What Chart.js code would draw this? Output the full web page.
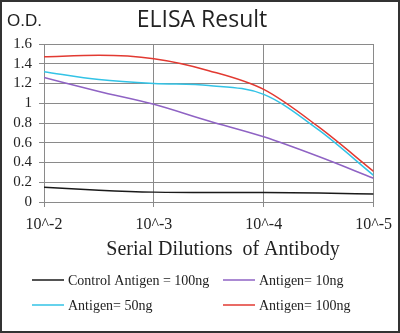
<!DOCTYPE html>
<html>
<head>
<meta charset="utf-8">
<script src="https://cdn.jsdelivr.net/npm/chart.js@4/dist/chart.umd.min.js"></script>
<style>
  body { margin: 0; background: #fff; }
</style>
</head>
<body>
<canvas id="elisaChart" width="400" height="333"></canvas>
<script>
// dilution exponent (10^-x) at half steps
const dilutions = [2, 2.5, 3, 3.5, 4, 4.5, 5];
const xTicks = [2, 3, 4, 5];

const seriesNames = ['Control Antigen = 100ng', 'Antigen= 10ng', 'Antigen= 50ng', 'Antigen= 100ng'];
const control100 = [0.15, 0.12, 0.10, 0.095, 0.095, 0.09, 0.08];
const antigen10 = [1.26, 1.12, 0.99, 0.82, 0.66, 0.46, 0.24];
const antigen50 = [1.32, 1.24, 1.20, 1.18, 1.09, 0.73, 0.27];
const antigen100 = [1.47, 1.485, 1.45, 1.33, 1.14, 0.76, 0.31];
const lineColors = ['#1a1a1a', '#8f63c4', '#33c3e6', '#e23a32'];

function pts(vals) {
  return vals.map((v, i) => ({ x: dilutions[i], y: v }));
}

const allSeries = [control100, antigen10, antigen50, antigen100];

// draws the texts, legend and frame around the picture
const decorPlugin = {
  id: 'decor',
  afterDraw(chart) {
    const ctx = chart.ctx;
    ctx.save();
    ctx.fillStyle = '#222';
    ctx.textBaseline = 'middle';

    ctx.font = '17px "Liberation Sans", Arial, sans-serif';
    ctx.textAlign = 'left';
    ctx.fillText('O.D.', 7, 21);

    ctx.font = '23px "Open Sans", sans-serif';
    ctx.textAlign = 'center';
    ctx.fillText('ELISA Result', 202, 20);

    ctx.font = '20px "Liberation Serif", serif';
    ctx.fillText('Serial Dilutions  of Antibody', 223, 250);

    // legend, two columns
    const spots = [[32, 280], [223, 280], [32, 305], [223, 305]];
    ctx.font = '14px "Liberation Serif", serif';
    ctx.textAlign = 'left';
    chart.data.datasets.forEach((ds, i) => {
      const [lx, ly] = spots[i];
      ctx.strokeStyle = ds.borderColor;
      ctx.lineWidth = 1.5;
      ctx.beginPath();
      ctx.moveTo(lx, ly);
      ctx.lineTo(lx + 32, ly);
      ctx.stroke();
      ctx.fillStyle = '#222';
      ctx.fillText(ds.label, lx + 36, ly + 1);
    });

    ctx.strokeStyle = '#333';
    ctx.lineWidth = 2;
    ctx.strokeRect(1, 1, 398, 331);
    ctx.restore();
  }
};

new Chart(document.getElementById('elisaChart'), {
  type: 'line',
  data: {
    datasets: allSeries.map((vals, i) => ({
      label: seriesNames[i],
      data: pts(vals),
      borderColor: lineColors[i],
      borderWidth: 1.5,
      pointRadius: 0,
      cubicInterpolationMode: 'monotone',
      fill: false
    }))
  },
  options: {
    responsive: false,
    animation: false,
    layout: { padding: { left: 0, right: 26, top: 44, bottom: 103 } },
    plugins: {
      legend: { display: false },
      title: { display: false },
      tooltip: { enabled: false }
    },
    scales: {
      x: {
        type: 'linear',
        min: 2,
        max: 5,
        afterFit: (s) => { s.height = 28; },
        afterBuildTicks: (s) => { s.ticks = xTicks.map(v => ({ value: v })); },
        grid: { color: '#8a8a8a', tickLength: 5 },
        border: { color: '#8a8a8a' },
        ticks: {
          padding: 8,
          autoSkip: false,
          maxRotation: 0,
          color: '#222',
          font: { family: '"Liberation Serif", serif', size: 16 },
          callback: (v) => '10^-' + v
        }
      },
      y: {
        min: 0,
        max: 1.6,
        afterFit: (s) => { s.width = 44; },
        grid: { color: '#8a8a8a', tickLength: 5 },
        border: { color: '#8a8a8a' },
        ticks: {
          stepSize: 0.2,
          autoSkip: false,
          padding: 7,
          color: '#222',
          font: { family: '"Liberation Serif", serif', size: 15 },
          callback: (v) => String(Number(v.toFixed(1)))
        }
      }
    }
  },
  plugins: [decorPlugin]
});
</script>
</body>
</html>
